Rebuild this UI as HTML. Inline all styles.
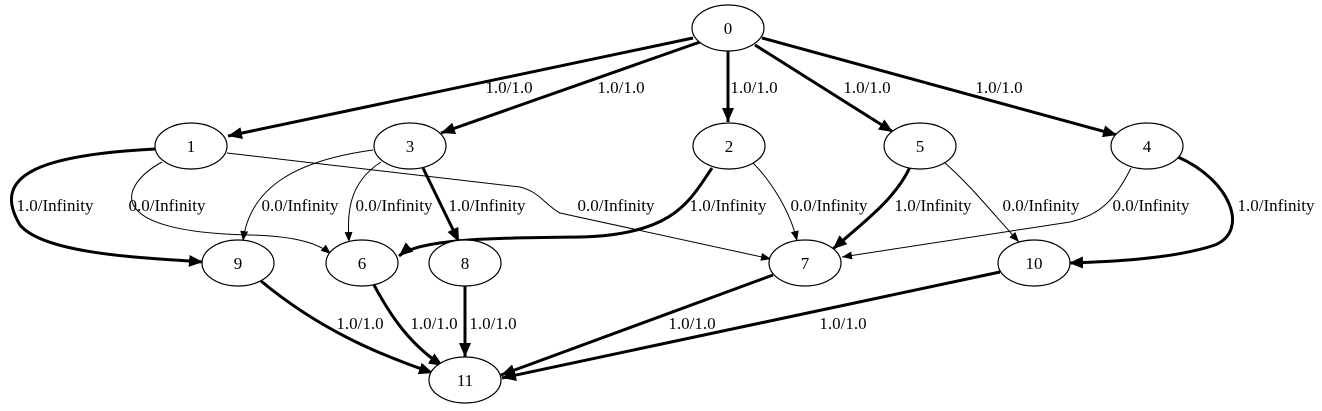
<!DOCTYPE html>
<html><head><meta charset="utf-8"><style>
html,body{margin:0;padding:0;background:#fff;}
svg{display:block;}
text{font-family:"Liberation Serif",serif;font-size:17px;fill:#000;}
</style></head><body>
<svg width="1322" height="411" viewBox="0 0 1322 411" xmlns="http://www.w3.org/2000/svg">
<defs>
<marker id="ak" markerUnits="userSpaceOnUse" markerWidth="16" markerHeight="12" refX="14" refY="6" orient="auto"><path d="M0,0 L14,6 L0,12 z" fill="#000"/></marker>
<marker id="an" markerUnits="userSpaceOnUse" markerWidth="12" markerHeight="8" refX="10" refY="4" orient="auto"><path d="M0,0 L10,4 L0,8 z" fill="#000"/></marker>
</defs>
<g fill="none" stroke="#000">
<g stroke-width="3" marker-end="url(#ak)">
<path d="M693,38 L228,136"/>
<path d="M700,42 L441,133"/>
<path d="M728,51 L728,122"/>
<path d="M755,45 L893,132"/>
<path d="M762,38 L1117,135"/>
<path d="M155,149 C40,155 -10,175 20,225 C45,255 150,258 203,262"/>
<path d="M423,168 L459,242"/>
<path d="M712,168 C690,200 675,235 580,237 C500,238 420,238 399,256"/>
<path d="M910,167 C895,200 860,225 833,249"/>
<path d="M1178,157 C1230,180 1250,230 1215,245 C1170,260 1100,262 1069,263"/>
<path d="M261,281 C320,330 380,355 433,373"/>
<path d="M374,285 C390,315 410,345 443,366"/>
<path d="M465,286 L465,357"/>
<path d="M773,275 L501,375"/>
<path d="M1000,272 L502,378"/>
</g>
<g stroke-width="1" marker-end="url(#an)">
<path d="M162,162 C120,185 100,232 250,235 C300,236 320,245 331,254"/>
<path d="M227,153 L520,187 C540,192 545,205 560,213 L771,259"/>
<path d="M373,150 C300,160 250,185 243,241"/>
<path d="M381,162 C345,185 348,220 349,242"/>
<path d="M753,163 C770,180 790,210 797,241"/>
<path d="M945,163 C970,185 990,210 1019,242"/>
<path d="M1131,168 C1115,200 1100,215 1070,222 L842,257"/>
</g>
<g stroke-width="1.2">
<ellipse cx="728" cy="28" rx="36" ry="23" fill="#fff"/>
<ellipse cx="191" cy="146" rx="36" ry="23" fill="#fff"/>
<ellipse cx="410" cy="146" rx="36" ry="23" fill="#fff"/>
<ellipse cx="729" cy="146" rx="36" ry="23" fill="#fff"/>
<ellipse cx="920" cy="146" rx="36" ry="23" fill="#fff"/>
<ellipse cx="1147" cy="146" rx="36" ry="23" fill="#fff"/>
<ellipse cx="238" cy="263" rx="36" ry="23" fill="#fff"/>
<ellipse cx="362" cy="263" rx="36" ry="23" fill="#fff"/>
<ellipse cx="465" cy="263" rx="36" ry="23" fill="#fff"/>
<ellipse cx="805" cy="263" rx="36" ry="23" fill="#fff"/>
<ellipse cx="1034" cy="263" rx="36" ry="23" fill="#fff"/>
<ellipse cx="465" cy="380" rx="36" ry="23" fill="#fff"/>
</g>
</g>
<g text-anchor="middle">
<text x="728" y="34">0</text>
<text x="191" y="152">1</text>
<text x="410" y="152">3</text>
<text x="729" y="152">2</text>
<text x="920" y="152">5</text>
<text x="1147" y="152">4</text>
<text x="238" y="269">9</text>
<text x="362" y="269">6</text>
<text x="465" y="269">8</text>
<text x="805" y="269">7</text>
<text x="1034" y="269">10</text>
<text x="465" y="386">11</text>
<text x="509" y="93">1.0/1.0</text>
<text x="621" y="93">1.0/1.0</text>
<text x="754" y="93">1.0/1.0</text>
<text x="867" y="93">1.0/1.0</text>
<text x="999" y="93">1.0/1.0</text>
<text x="55" y="211">1.0/Infinity</text>
<text x="167" y="211">0.0/Infinity</text>
<text x="300" y="211">0.0/Infinity</text>
<text x="394" y="211">0.0/Infinity</text>
<text x="487" y="211">1.0/Infinity</text>
<text x="616" y="211">0.0/Infinity</text>
<text x="728" y="211">1.0/Infinity</text>
<text x="829" y="211">0.0/Infinity</text>
<text x="933" y="211">1.0/Infinity</text>
<text x="1041" y="211">0.0/Infinity</text>
<text x="1151" y="211">0.0/Infinity</text>
<text x="1276" y="211">1.0/Infinity</text>
<text x="360" y="329">1.0/1.0</text>
<text x="434" y="329">1.0/1.0</text>
<text x="493" y="329">1.0/1.0</text>
<text x="692" y="329">1.0/1.0</text>
<text x="843" y="329">1.0/1.0</text>
</g>
</svg>
</body></html>
